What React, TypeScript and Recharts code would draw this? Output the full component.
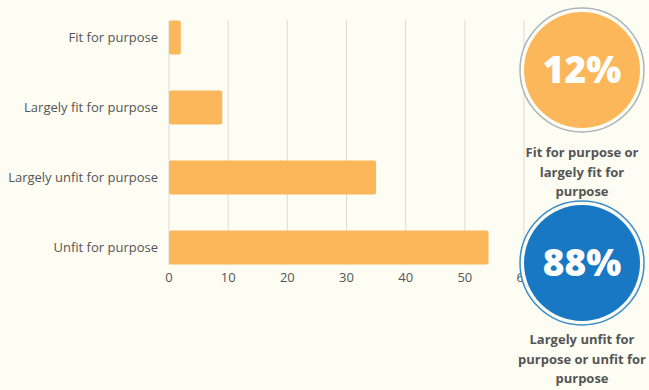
import React from 'react';
import { BarChart, Bar, XAxis, YAxis, CartesianGrid } from 'recharts';

const categories = ['Fit for purpose', 'Largely fit for purpose', 'Largely unfit for purpose', 'Unfit for purpose'];
const values = [2, 9, 35, 54];
const xTicks = [0, 10, 20, 30, 40, 50, 60];

const fitShare = '12%';
const unfitShare = '88%';
const fitCaption = ['Fit for purpose or', 'largely fit for', 'purpose'];
const unfitCaption = ['Largely unfit for', 'purpose or unfit for', 'purpose'];

const data = categories.map((name, i) => ({ name, value: values[i] }));

const BG = '#fdfdf4';
const ORANGE = '#fcb75b';
const BLUE = '#1878c4';

const Badge = ({ cy, fill, ring, label, caption, captionY }: { cy: number; fill: string; ring: string; label: string; caption: string[]; captionY: number }) => (
  <g>
    <circle cx={582} cy={cy} r={62} fill={BG} stroke={ring} strokeWidth={1.5} />
    <circle cx={582} cy={cy} r={58} fill={fill} />
    <text x={582} y={cy + 13} textAnchor="middle" fill="#fff" fontSize={37} fontWeight={800} fontFamily="'Open Sans', sans-serif">
      {label}
    </text>
    {caption.map((line, i) => (
      <text key={i} x={582} y={captionY + i * 19.5} textAnchor="middle" fill="#555" fontSize={13} fontWeight={700} fontFamily="'Open Sans', sans-serif">
        {line}
      </text>
    ))}
  </g>
);

export default function App() {
  return (
    <div style={{ position: 'fixed', left: 0, top: 0, width: 649, height: 390, background: BG }}>
      <BarChart
        width={649}
        height={390}
        data={data}
        layout="vertical"
        margin={{ top: 20, right: 125, bottom: 95, left: 0 }}
        style={{ fontFamily: "'Open Sans', sans-serif" }}
      >
        <CartesianGrid horizontal={false} stroke="#dedbd4" />
        <XAxis
          type="number"
          domain={[0, 60]}
          ticks={xTicks}
          axisLine={false}
          tickLine={false}
          tick={{ fill: '#555', fontSize: 13 }}
          height={30}
        />
        <YAxis
          type="category"
          dataKey="name"
          width={169}
          axisLine={false}
          tickLine={false}
          tickMargin={5}
          padding={{ top: -17.5, bottom: -17.5 }}
          tick={{ fill: '#555', fontSize: 13 }}
        />
        <Bar dataKey="value" fill={ORANGE} barSize={34} radius={2} isAnimationActive={false} />
      </BarChart>
      <svg width={649} height={390} style={{ position: 'absolute', left: 0, top: 0 }}>
        <Badge cy={70} fill={ORANGE} ring="#a9b4bb" label={fitShare} caption={fitCaption} captionY={157} />
        <Badge cy={263} fill={BLUE} ring="#3b8cc8" label={unfitShare} caption={unfitCaption} captionY={344} />
      </svg>
    </div>
  );
}
